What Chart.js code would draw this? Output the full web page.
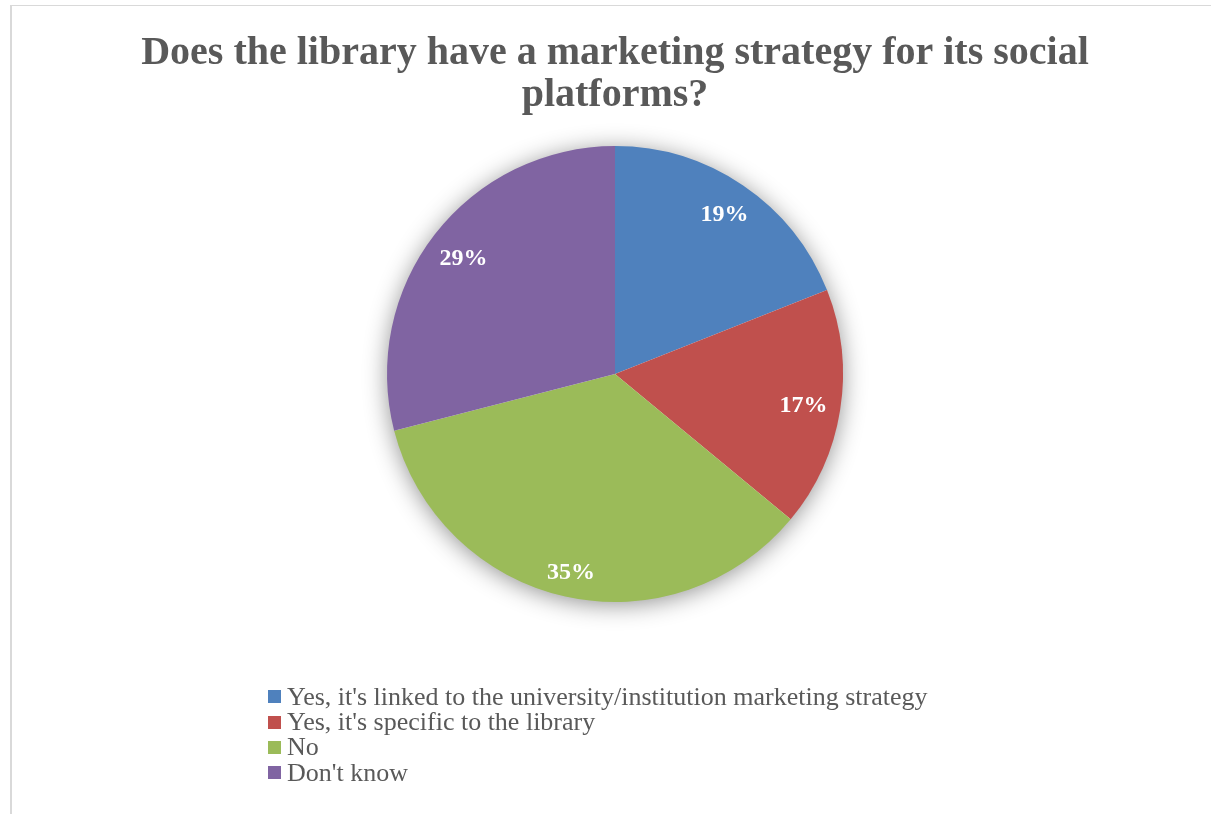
<!DOCTYPE html>
<html>
<head>
  <meta charset="utf-8">
  <script src="https://cdn.jsdelivr.net/npm/chart.js"></script>
  <style>
    html, body { margin: 0; padding: 0; background: #fff; overflow: hidden; }
    #frame {
      position: absolute; left: 10px; top: 5px; width: 1400px; height: 1000px;
      border-left: 2px solid #d9d9d9; border-top: 1px solid #d9d9d9;
    }
    #pie { position: absolute; left: 0; top: 0; }
    #legend {
      position: absolute; left: 268px; top: 684px; margin: 0; padding: 0; list-style: none;
      font-family: "Liberation Serif", serif; font-size: 26px; color: #595959;
    }
    #legend li { display: flex; align-items: center; height: 25.4px; white-space: nowrap; }
    #legend span.box { width: 13px; height: 13px; margin-right: 6px; flex: none; }
  </style>
</head>
<body>
  <div id="frame"></div>
  <canvas id="pie" width="1211" height="814"></canvas>
  <ul id="legend"></ul>
  <script>
    const titleLines = ['Does the library have a marketing strategy for its social', 'platforms?'];
    const categories = [
      "Yes, it's linked to the university/institution marketing strategy",
      "Yes, it's specific to the library",
      'No',
      "Don't know"
    ];
    const shares = [19, 17, 35, 29];
    const sliceColors = ['#4f81bd', '#c0504d', '#9bbb59', '#8064a2'];

    // soft grey glow behind the pie
    const pieShadow = {
      id: 'pieShadow',
      beforeDatasetsDraw(chart) {
        const arc = chart.getDatasetMeta(0).data[0];
        if (!arc) return;
        const ctx = chart.ctx;
        ctx.save();
        ctx.shadowColor = 'rgba(0,0,0,0.45)';
        ctx.shadowBlur = 24;
        ctx.shadowOffsetY = 3;
        ctx.beginPath();
        ctx.arc(arc.x, arc.y, arc.outerRadius - 1, 0, Math.PI * 2);
        ctx.fillStyle = '#ffffff';
        ctx.fill();
        ctx.restore();
      }
    };

    // percentage labels, pushed out along each slice towards the rim
    const sliceLabels = {
      id: 'sliceLabels',
      afterDatasetsDraw(chart) {
        const ctx = chart.ctx;
        const meta = chart.getDatasetMeta(0);
        ctx.save();
        ctx.font = 'bold 24px "Liberation Serif"';
        ctx.fillStyle = '#ffffff';
        ctx.textAlign = 'center';
        ctx.textBaseline = 'alphabetic';
        meta.data.forEach((arc, i) => {
          const text = shares[i] + '%';
          const w = ctx.measureText(text).width / 2;
          const h = 8.5;
          const mid = (arc.startAngle + arc.endAngle) / 2;
          const ux = Math.cos(mid), uy = Math.sin(mid);
          const a = Math.sign(ux) * w, b = Math.sign(uy) * h;
          const L = arc.outerRadius - 12;
          const p = ux * a + uy * b;
          const d = -p + Math.sqrt(p * p - (a * a + b * b - L * L));
          ctx.fillText(text, arc.x + ux * d, arc.y + uy * d + h);
        });
        ctx.restore();
      }
    };

    const htmlLegend = {
      id: 'htmlLegend',
      afterUpdate(chart) {
        const list = document.getElementById('legend');
        list.innerHTML = '';
        chart.options.plugins.legend.labels.generateLabels(chart).forEach(item => {
          const li = document.createElement('li');
          const box = document.createElement('span');
          box.className = 'box';
          box.style.background = item.fillStyle;
          li.appendChild(box);
          li.appendChild(document.createTextNode(item.text));
          list.appendChild(li);
        });
      }
    };

    new Chart(document.getElementById('pie'), {
      type: 'pie',
      data: {
        labels: categories,
        datasets: [{
          data: shares,
          backgroundColor: sliceColors,
          borderWidth: 0
        }]
      },
      options: {
        responsive: false,
        animation: false,
        events: [],
        layout: { padding: { left: 19, right: 0, top: 0, bottom: 212 } },
        plugins: {
          legend: { display: false },
          tooltip: { enabled: false },
          title: {
            display: true,
            text: titleLines,
            color: '#595959',
            font: { family: '"Liberation Serif"', size: 40, weight: 'bold', lineHeight: 1.05 },
            padding: { top: 33, bottom: 29 }
          }
        }
      },
      plugins: [pieShadow, sliceLabels, htmlLegend]
    });
  </script>
</body>
</html>
